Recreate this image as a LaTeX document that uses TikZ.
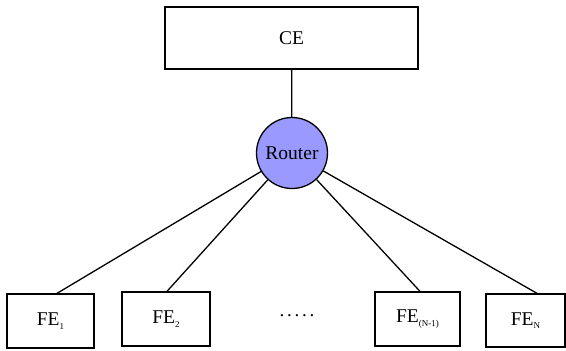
\documentclass[tikz,border=0pt]{standalone}
\usepackage{fontspec}
\setmainfont{Liberation Serif}
\begin{document}
\begin{tikzpicture}[x=1pt,y=-1pt,
  box/.style={draw,line width=1.3pt,rectangle,inner sep=0pt,font=\fontsize{19.5}{22}\selectfont},
  link/.style={line width=1.3pt}]
\useasboundingbox (0,0) rectangle (566,351);
\node[box,minimum width=253pt,minimum height=62pt] (ce) at (291.5,38) {CE};
\node[draw,line width=1.3pt,circle,fill={rgb,255:red,153;green,153;blue,255},minimum size=71pt,inner sep=0pt,font=\fontsize{19.5}{22}\selectfont] (router) at (292,153) {Router};
\node[box,minimum width=87pt,minimum height=54pt] (fe1) at (50.5,321) {FE\raisebox{-0.4ex}{\fontsize{9}{10}\selectfont 1}};
\node[box,minimum width=88pt,minimum height=54pt] (fe2) at (166,319) {FE\raisebox{-0.4ex}{\fontsize{9}{10}\selectfont 2}};
\node[font=\fontsize{19}{22}\selectfont,inner sep=0pt,anchor=base] (dots) at (297,316) {.\hspace{2.8pt}.\hspace{2.8pt}.\hspace{2.8pt}.\hspace{2.8pt}.};
\node[box,minimum width=85pt,minimum height=54pt] (fen1) at (417.5,319) {FE\raisebox{-0.4ex}{\fontsize{9}{10}\selectfont (N-1)}};
\node[box,minimum width=79pt,minimum height=53pt] (fen) at (525.5,320.5) {FE\raisebox{-0.4ex}{\fontsize{9}{10}\selectfont N}};
\draw[link] (ce) -- (router);
\draw[link] (router) -- (fe1.north -| 57,0);
\draw[link] (router) -- (fe2.north -| 167,0);
\draw[link] (router) -- (fen1.north -| 420,0);
\draw[link] (router) -- (fen.north -| 537,0);
\end{tikzpicture}
\end{document}
